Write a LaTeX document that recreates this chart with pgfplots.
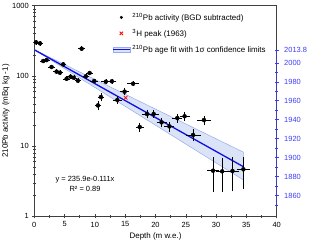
\documentclass[border=0pt]{standalone}
\usepackage{pgfplots}
\usepackage{pgfplotstable}
\pgfplotsset{compat=1.18}
\usepackage{fontspec}
\setmainfont{Liberation Sans}
\definecolor{fitblue}{RGB}{15,15,230}
\definecolor{axblue}{RGB}{60,60,245}
\definecolor{bandfill}{RGB}{218,228,246}
\definecolor{bandedge}{RGB}{150,172,238}

\pgfplotstableread{
x y ex eyp eym
0.28 301 0.3 8 8
0.94 291 0.3 8 8
1.47 163 0.3 5 5
2.03 168 0.3 5 5
2.85 134 0.3 4 4
3.68 115 0.3 3.5 3.5
4.22 111 0.3 3.5 3.5
4.77 146 0.3 4 4
5.33 91 0.3 3 3
5.99 97.5 0.3 3 3
6.53 94 0.3 3 3
7.19 85.5 0.3 3 3
7.81 244 0.3 7 7
8.51 98.7 0.3 3 3
9.13 110 0.3 3.5 3.5
9.88 84.6 0.4 3 3
10.5 38 0.3 4 4
11.0 50 0.3 4.5 4.5
11.8 82.6 0.5 3 3
12.8 83.7 0.5 3 3
13.7 45.4 0.5 3.5 3.5
14.9 59.6 0.5 4 4
16.3 77.4 0.7 3 3
17.4 18.7 0.4 2 2
18.6 28.7 0.6 2.5 2.5
19.7 28.7 0.6 2.5 2.5
21.0 21.8 0.6 2.5 2.5
22.3 19.1 0.6 2.3 2.3
23.6 25.1 0.6 2.5 2.5
24.8 26.6 0.6 2.5 2.5
26.2 14.4 1.0 2.2 2.2
28.0 23.5 0.9 2.5 2.5
29.5 4.46 0.7 2.2 2.1
31.0 4.37 0.8 2.2 2.05
32.7 4.42 0.8 2.2 2.05
34.5 4.67 0.9 2.0 2.1
}\pbdata

\begin{document}
\begin{tikzpicture}
\path[use as bounding box] (-34.3bp,-27.7bp) rectangle (285.7bp,216.3bp);
\begin{axis}[
  scale only axis, width=242.4bp, height=210.6bp,
  xmin=0, xmax=40, ymode=log, ymin=1, ymax=1000,
  xtick={0,5,...,40}, minor x tick num=1,
  ytick={1,10,100,1000}, yticklabels={1,10,100,1000},
  xtick pos=left, ytick pos=left, tick align=center,
  major tick length=4bp, minor tick length=2.5bp,
  axis line style={line width=0.5pt, black!75},
  every tick/.style={black!75, line width=0.5pt},
  /pgf/number format/assume math mode=true,
  tick label style={font=\fontsize{7.5}{8}\selectfont},
  xlabel={Depth (m w.e.)}, ylabel={210Pb activity (mBq kg -1)},
  label style={font=\fontsize{8}{9}\selectfont},
  xlabel style={at={(axis description cs:0.5,-0.0935)}, anchor=center},
  ylabel style={at={(axis description cs:-0.117,0.5)}, anchor=center},
  legend style={at={(axis description cs:0.3205,0.975)}, anchor=north west,
    draw=none, fill=none, inner sep=0pt, row sep=3.5bp,
    font=\fontsize{8}{9}\selectfont,
    /tikz/every even column/.append style={column sep=1bp}},
  legend cell align=left,
  error bars/error bar style={black, line width=0.5pt},
  error bars/error mark options={black, mark size=1.4pt, line width=0.5pt},
]
\addplot[fill=bandfill, draw=bandedge, line width=0.5pt, forget plot] coordinates {(0,235.9) (34.5,8.2) (34.5,3.3) (0,235.9)} -- cycle;
\addplot[fitblue, line width=1.3pt, forget plot] coordinates {(0,235.9) (34.5,5.09)};
\addplot[only marks, mark=*, mark size=2pt, black, forget plot,
  error bars/.cd, x dir=both, x explicit, y dir=both, y explicit]
  table[x=x, y=y, x error=ex, y error plus=eyp, y error minus=eym] {\pbdata};
\addplot[only marks, mark=x, mark size=2.6pt, red, line width=0.8pt, forget plot] coordinates {(15.07,48.9)};
\addlegendimage{only marks, mark=*, mark size=1.3pt, black}
\addlegendentry{\textsuperscript{210}Pb activity (BGD subtracted)}
\addlegendimage{only marks, mark=x, mark size=2.4pt, red, line width=0.8pt}
\addlegendentry{\textsuperscript{3}H peak (1963)}
\addlegendimage{legend image code/.code={
  \fill[bandfill, draw=bandedge, line width=0.5pt] (0cm,-2.5bp) rectangle (0.6cm,2.5bp);
  \draw[fitblue, line width=1.3pt] (0cm,0cm) -- (0.6cm,0cm);}}
\addlegendentry{\textsuperscript{210}Pb age fit with 1σ confidence limits}
\node[font=\fontsize{7.5}{8}\selectfont] at (axis cs:8.37,3.32) {y = 235.9e-0.111x};
\node[font=\fontsize{7.5}{8}\selectfont] at (axis cs:8.37,2.49) {R² = 0.89};
\end{axis}
\begin{axis}[
  scale only axis, width=242.4bp, height=210.6bp,
  xmin=0, xmax=40, ymin=1838.0, ymax=2060.3,
  hide x axis, axis y line*=right,
  y axis line style={draw=none},
  ytick={1860,1880,1900,1920,1940,1960,1980,2000,2013.8},
  yticklabels={1860,1880,1900,1920,1940,1960,1980,2000,2013.8},
  minor ytick={1850,1870,1890,1910,1930,1950,1970,1990},
  tick align=center, major tick length=4bp, minor tick length=2.5bp,
  every tick/.style={axblue, line width=0.5pt},
  /pgf/number format/assume math mode=true,
  yticklabel style={font=\fontsize{7.5}{8}\selectfont, text=axblue, xshift=2bp},
]
\draw[axblue, line width=0.6pt] (axis cs:40,1850) -- (axis cs:40,2013.8);
\node[font=\fontsize{8}{9}\selectfont, text=axblue, rotate=90] at (axis description cs:1.137,0.4525) {Year (A.D.)};
\end{axis}
\end{tikzpicture}
\end{document}
